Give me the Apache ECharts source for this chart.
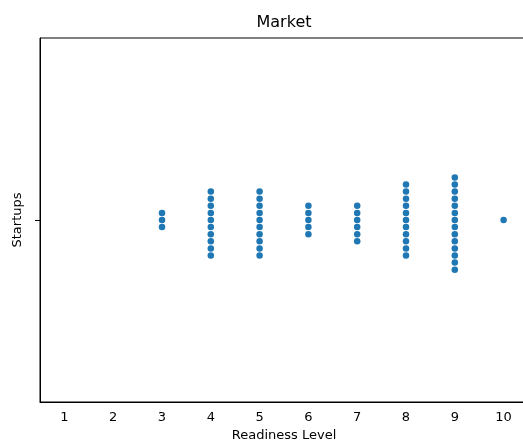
<!DOCTYPE html>
<html>
<head>
<meta charset="utf-8">
<script src="https://cdn.jsdelivr.net/npm/echarts@6/dist/echarts.min.js"></script>
<style>html,body{margin:0;padding:0;background:#fff}#c{width:523px;height:444px}</style>
</head>
<body>
<div id="c"></div>
<script>
// Data: readiness levels and how many startups sit at each level
const tickLabels = ['1','2','3','4','5','6','7','8','9','10'];
const levels = [3, 4, 5, 6, 7, 8, 9, 10];
const counts = [3, 10, 10, 5, 6, 11, 14, 1];
const categoryName = 'Startups';

// swarm layout: stack points alternately below/above the centre line
const spacing = 0.0195; // one marker diameter in y-axis units
const points = [];
levels.forEach((lv, i) => {
  for (let k = 0; k < counts[i]; k++) {
    let step = 0;
    if (k > 0) {
      const m = Math.ceil(k / 2);
      step = (k % 2 === 1) ? -m : m; // odd: below, even: above
    }
    points.push([String(lv), step * spacing]);
  }
});

const chart = echarts.init(document.getElementById('c'), null, {renderer: 'canvas'});
const font = 'DejaVu Sans';
chart.setOption({
  animation: false,
  title: {
    text: 'Market', left: 284, textAlign: 'center', top: 15, padding: 0,
    textStyle: {fontFamily: font, fontSize: 16, fontWeight: 'normal', color: '#000'}
  },
  grid: {left: 40, top: 38, right: -5, bottom: 42, show: true, borderColor: '#000', borderWidth: 1,
         containLabel: false, outerBoundsMode: 'none'},
  xAxis: {
    type: 'category', data: tickLabels, boundaryGap: true,
    name: 'Readiness Level', nameLocation: 'middle', nameGap: 26,
    nameTextStyle: {fontFamily: font, fontSize: 13, color: '#000'},
    axisLine: {onZero: false, lineStyle: {color: '#000', width: 1}},
    axisTick: {alignWithLabel: true, length: 5, lineStyle: {color: '#000'}},
    axisLabel: {fontFamily: font, fontSize: 13, color: '#000', margin: 9, interval: 0},
    splitLine: {show: false}
  },
  yAxis: {
    type: 'value', min: -0.5, max: 0.5,
    name: categoryName, nameLocation: 'middle', nameGap: 16, nameRotate: 90,
    nameTextStyle: {fontFamily: font, fontSize: 13, color: '#000'},
    axisLine: {show: true, onZero: false, lineStyle: {color: '#000', width: 1}},
    axisTick: {show: true, length: 5, customValues: [0], lineStyle: {color: '#000'}},
    axisLabel: {show: false},
    splitLine: {show: false}
  },
  series: [{
    type: 'scatter', data: points, symbolSize: 6.5,
    itemStyle: {color: '#1f77b4', opacity: 1}
  }]
});
</script>
</body>
</html>
